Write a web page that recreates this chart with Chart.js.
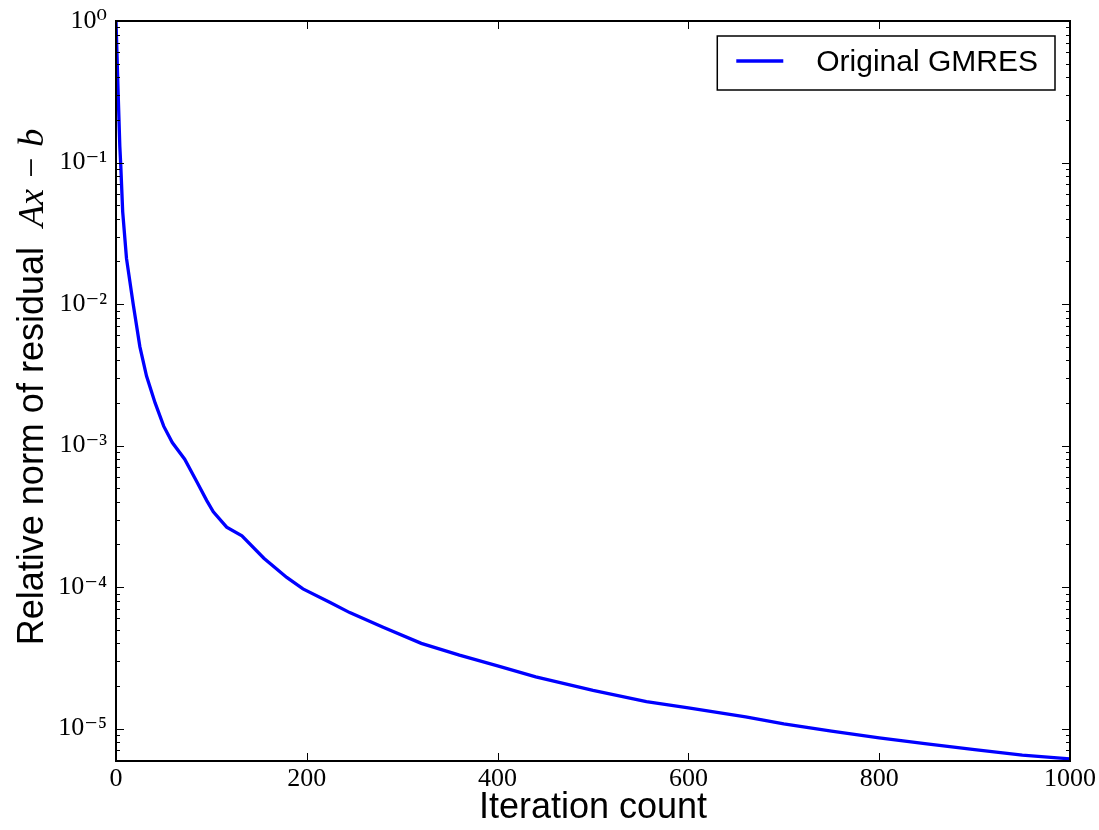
<!DOCTYPE html>
<html>
<head>
<meta charset="UTF-8">
<title>GMRES residual</title>
<script src="https://cdn.jsdelivr.net/npm/chart.js@4.4.1/dist/chart.umd.min.js"></script>
<style>
  html, body { margin: 0; padding: 0; background: #fff; }
</style>
</head>
<body>
<canvas id="myChart" width="1099" height="830"></canvas>
<script>
// data
var iterations = [0, 2, 4, 5, 7, 11, 18, 25, 32, 41, 50, 59, 72, 85, 95, 102, 116, 132, 155, 179, 196, 224, 245, 280, 320, 360, 400, 440, 500, 556, 600, 660, 700, 750, 800, 850, 900, 950, 1000]
var residuals = [1.0, 0.35, 0.13, 0.095, 0.045, 0.021, 0.0100, 0.0050, 0.0031, 0.0020, 0.00137, 0.00105, 0.00080, 0.00055, 0.00041, 0.00034, 0.000265, 0.00023, 0.00016, 0.000117, 0.000097, 0.000078, 0.000066, 0.000052, 0.000040, 0.000033, 0.0000277, 0.0000232, 0.0000186, 0.0000155, 0.0000140, 0.0000121, 0.0000108, 0.0000096, 0.0000086, 0.0000078, 0.0000071, 0.0000065, 0.0000061]
var seriesLabel = 'Original GMRES'

var xTicks = [0, 200, 400, 600, 800, 1000]
var yTicks = [1e-5, 1e-4, 1e-3, 1e-2, 1e-1, 1]
var yTickLabels = ['10\u207B\u2075', '10\u207B\u2074', '10\u207B\u00B3', '10\u207B\u00B2', '10\u207B\u00B9', '10\u2070']
var xTitle = 'Iteration count'
var yTitleText = 'Relative norm of residual'
var yTitleMath = 'Ax \u2212 b'

var points = iterations.map(function (it, i) { return { x: it, y: residuals[i] } })

var extras = {
    id: 'extras',
    afterDatasetsDraw: function (chart) {
        var ctx = chart.ctx, a = chart.chartArea
        var xs = chart.scales.x, ys = chart.scales.y
        ctx.save()
        // inward tick marks on all four sides
        ctx.strokeStyle = '#000'
        ctx.lineWidth = 1
        ctx.beginPath()
        xTicks.forEach(function (v) {
            var px = Math.round(xs.getPixelForValue(v)) + 0.5
            ctx.moveTo(px, a.bottom); ctx.lineTo(px, a.bottom - 8)
            ctx.moveTo(px, a.top); ctx.lineTo(px, a.top + 8)
        })
        for (var e = -6; e <= 0; e++) {
            for (var k = 1; k <= 9; k++) {
                var v = k * Math.pow(10, e)
                if (v < ys.min || v > ys.max) continue
                var len = k === 1 ? 8 : 4
                var py = Math.round(ys.getPixelForValue(v)) + 0.5
                ctx.moveTo(a.left, py); ctx.lineTo(a.left + len, py)
                ctx.moveTo(a.right, py); ctx.lineTo(a.right - len, py)
            }
        }
        ctx.stroke()
        // frame
        ctx.lineWidth = 2
        ctx.strokeRect(a.left, a.top, a.right - a.left, a.bottom - a.top)

        // legend box
        var ds = chart.data.datasets[0]
        ctx.font = '30px "Liberation Sans", Arial, sans-serif'
        var tw = ctx.measureText(ds.label).width
        var boxR = a.right - 15, boxT = a.top + 15, boxH = 54
        var boxL = boxR - (19 + 47 + 33 + tw + 17)
        ctx.fillStyle = '#fff'
        ctx.fillRect(boxL, boxT, boxR - boxL, boxH)
        ctx.lineWidth = 1.5
        ctx.strokeStyle = '#000'
        ctx.strokeRect(boxL, boxT, boxR - boxL, boxH)
        ctx.strokeStyle = ds.borderColor
        ctx.lineWidth = ds.borderWidth
        ctx.beginPath()
        ctx.moveTo(boxL + 19, boxT + 25)
        ctx.lineTo(boxL + 66, boxT + 25)
        ctx.stroke()
        ctx.fillStyle = '#000'
        ctx.textBaseline = 'alphabetic'
        ctx.fillText(ds.label, boxL + 99, boxT + 35)
        ctx.restore()
    },
    afterDraw: function (chart) {
        var ctx = chart.ctx, a = chart.chartArea
        ctx.save()
        var sansFont = '36px "Liberation Sans", Arial, sans-serif'
        var mathFont = 'italic 36px "Liberation Serif", "DejaVu Serif", serif'
        ctx.font = sansFont
        var w1 = ctx.measureText(yTitleText).width
        var gap = 20
        ctx.font = mathFont
        var w2 = ctx.measureText(yTitleMath).width
        var total = w1 + gap + w2
        ctx.translate(43, (a.top + a.bottom) / 2 - 4)
        ctx.rotate(-Math.PI / 2)
        ctx.fillStyle = '#000'
        ctx.textBaseline = 'alphabetic'
        ctx.textAlign = 'left'
        ctx.font = sansFont
        ctx.fillText(yTitleText, -total / 2, 0)
        ctx.font = mathFont
        ctx.fillText(yTitleMath, -total / 2 + w1 + gap, 0)
        ctx.restore()
    }
}

Chart.defaults.color = '#000'

var myChart = document.getElementById('myChart').getContext('2d')
var chart = new Chart(myChart, {
    type: 'line',
    data: {
        datasets: [{
            label: seriesLabel,
            data: points,
            borderColor: '#0000ff',
            backgroundColor: '#0000ff',
            borderWidth: 3.3,
            pointRadius: 0,
            tension: 0,
            fill: false
        }]
    },
    options: {
        responsive: false,
        animation: false,
        layout: { padding: { top: 21, right: 29, left: 0, bottom: 0 } },
        plugins: {
            legend: { display: false },
            tooltip: { enabled: false }
        },
        scales: {
            x: {
                type: 'linear',
                min: 0,
                max: 1000,
                afterBuildTicks: function (scale) {
                    scale.ticks = xTicks.map(function (v) { return { value: v } })
                },
                afterFit: function (scale) {
                    scale.height = 69
                    scale.paddingLeft = 0
                    scale.paddingRight = 0
                },
                grid: { display: false, drawTicks: false },
                border: { display: false },
                ticks: {
                    autoSkip: false,
                    maxRotation: 0,
                    padding: 3,
                    font: { family: '"Liberation Serif", "DejaVu Serif", serif', size: 26 },
                    callback: function (v) { return String(v) }
                },
                title: {
                    display: true,
                    text: xTitle,
                    padding: { top: 0, bottom: 0 },
                    font: { family: '"Liberation Sans", Arial, sans-serif', size: 36, lineHeight: 1.2 }
                }
            },
            y: {
                type: 'logarithmic',
                min: 5.9e-6,
                max: 1,
                afterBuildTicks: function (scale) {
                    scale.ticks = yTicks.map(function (v) { return { value: v } })
                },
                afterFit: function (scale) {
                    scale.width = 116
                    scale.paddingTop = 0
                    scale.paddingBottom = 0
                },
                grid: { display: false, drawTicks: false },
                border: { display: false },
                ticks: {
                    autoSkip: false,
                    padding: 9,
                    font: { family: '"Liberation Serif", "DejaVu Serif", serif', size: 26 },
                    callback: function (v) {
                        var i = yTicks.indexOf(v)
                        return i >= 0 ? yTickLabels[i] : ''
                    }
                }
            }
        }
    },
    plugins: [extras]
})
</script>
</body>
</html>
